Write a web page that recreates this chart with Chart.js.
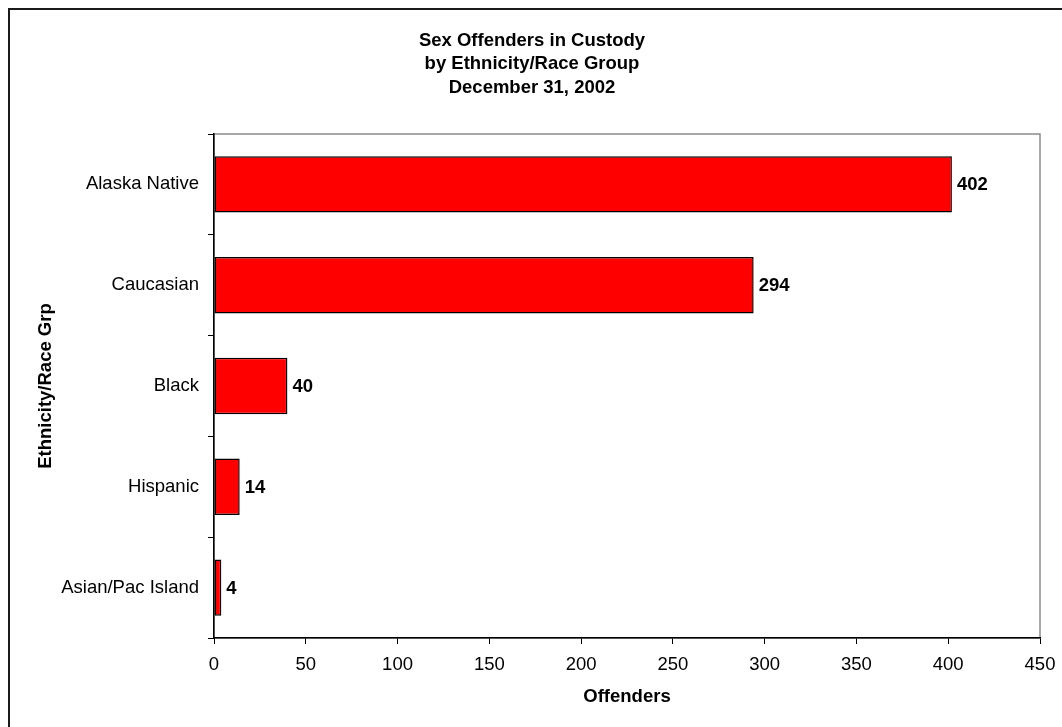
<!DOCTYPE html>
<html>
<head>
<meta charset="utf-8">
<script src="https://cdn.jsdelivr.net/npm/chart.js@4.4.1/dist/chart.umd.min.js"></script>
<style>
  html, body { margin:0; padding:0; background:#fff; }
  #wrap { position:relative; width:1062px; height:727px; overflow:hidden; }
  #frame { position:absolute; left:8px; top:8px; width:1100px; height:800px; border:2px solid #1a1a1a; box-sizing:border-box; }
  canvas { position:absolute; left:0; top:0; }
</style>
</head>
<body>
<div id="wrap">
  <div id="frame"></div>
  <canvas id="chart" width="1062" height="727"></canvas>
</div>
<script>
// chart data
const groups    = ['Alaska Native', 'Caucasian', 'Black', 'Hispanic', 'Asian/Pac Island'];
const offenders = [402, 294, 40, 14, 4];
const titleLines = ['Sex Offenders in Custody', 'by Ethnicity/Race Group', 'December 31, 2002'];
const xMax = 450, xStep = 50;

const FONT = '"Liberation Sans", Arial, Helvetica, sans-serif';
Chart.defaults.font.family = FONT;
Chart.defaults.color = '#000';

// title drawn centred on the whole picture, not the padded box
const chartTitle = {
  id:'chartTitle',
  afterDraw(chart){
    const {ctx} = chart;
    ctx.save();
    ctx.font = 'bold 18.5px ' + FONT;
    ctx.fillStyle = '#000';
    ctx.textAlign = 'center'; ctx.textBaseline = 'middle';
    titleLines.forEach((t,i)=> ctx.fillText(t, 532, 41 + i*23.3));
    ctx.restore();
  }
};

// gray box round the plot area, drawn first so the black axes sit on top
const plotBox = {
  id:'plotBox',
  beforeDraw(chart){
    const {ctx, chartArea:a} = chart;
    ctx.save();
    ctx.strokeStyle = '#8c8c8c'; ctx.lineWidth = 1.5;
    ctx.strokeRect(a.left, a.top, a.right-a.left, a.bottom-a.top);
    ctx.restore();
  }
};

// value labels to the right of each bar
const barLabels = {
  id:'barLabels',
  afterDatasetsDraw(chart){
    const {ctx} = chart;
    const meta = chart.getDatasetMeta(0);
    ctx.save();
    ctx.font = 'bold 18.5px ' + FONT;
    ctx.fillStyle = '#000';
    ctx.textAlign = 'left'; ctx.textBaseline = 'middle';
    meta.data.forEach((bar,i)=>{
      ctx.fillText(String(offenders[i]), bar.x + 5, bar.y + 1);
    });
    ctx.restore();
  }
};

new Chart(document.getElementById('chart'), {
  type:'bar',
  data:{
    labels: groups,
    datasets:[{
      data: offenders,
      backgroundColor:'#ff0000',
      borderColor:'#000',
      borderWidth:1.5,
      borderSkipped:false,
      barPercentage:0.56,
      categoryPercentage:1
    }]
  },
  options:{
    indexAxis:'y',
    responsive:false,
    animation:false,
    layout:{ padding:{ left:0, top:134, right:22, bottom:0 } },
    plugins:{
      legend:{ display:false },
      tooltip:{ enabled:false },
      title:{ display:false }
    },
    scales:{
      x:{
        min:0, max:xMax,
        ticks:{ stepSize:xStep, padding:10, font:{ size:18.5 }, color:'#000', maxRotation:0 },
        grid:{ drawOnChartArea:false, tickLength:6, color:'#000', tickColor:'#000' },
        border:{ color:'#000', width:1.5 },
        title:{ display:true, text:'Offenders', font:{ size:18.5, weight:'bold' }, color:'#000', padding:{ top:0, bottom:19 } },
        afterFit(s){ s.height = 89; s.paddingLeft = 0; s.paddingRight = 0; }
      },
      y:{
        offset:true,
        ticks:{ padding:9, font:{ size:18.5 }, color:'#000' },
        grid:{ offset:true, drawOnChartArea:false, tickLength:6, color:'#000', tickColor:'#000' },
        border:{ color:'#000', width:1.5 },
        title:{ display:true, text:'Ethnicity/Race Grp', font:{ size:18.5, weight:'bold' }, color:'#000', padding:{ top:35, bottom:0 } },
        afterFit(s){ s.width = 214; s.paddingTop = 0; s.paddingBottom = 0; }
      }
    }
  },
  plugins:[plotBox, barLabels, chartTitle]
});
</script>
</body>
</html>
